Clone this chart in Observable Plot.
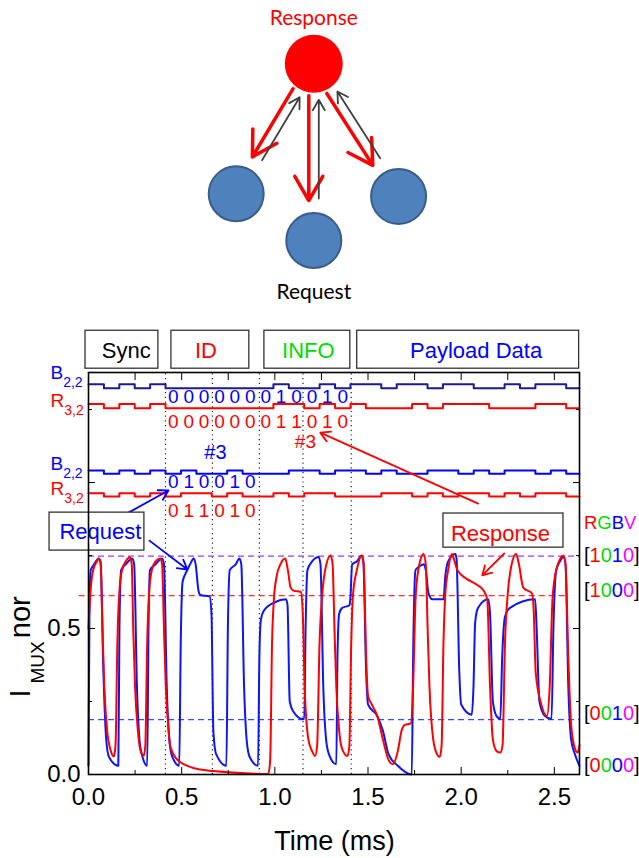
<!DOCTYPE html>
<html>
<head>
<meta charset="utf-8">
<script src="https://cdn.jsdelivr.net/npm/d3@7"></script>
<script src="https://cdn.jsdelivr.net/npm/@observablehq/plot@0.6"></script>
<style>
  html, body { margin: 0; padding: 0; background: #fff; }
  #page { position: relative; width: 639px; height: 858px; overflow: hidden; background:#fff; }
  #diagram { position: absolute; left: 0; top: 0; }
  #chart { position: absolute; left: 0; top: 310px; }
</style>
</head>
<body>
<div id="page"><div id="diagram"></div><div id="chart"></div></div>
<script>
// ================= DATA =================
// network diagram (abstract layout units)
const nodeNames = ["Response", "left", "middle", "right"];
const nodeX = [0, -0.97, 0, 1.06];
const nodeY = [0, 1.0, 1.36, 1.02];
const nodeLabels = ["Response", "", "Request", ""];

// frame sections
const sectionNames = ["Sync", "ID", "INFO", "Payload Data"];
const sectionStart = [-0.016, 0.445, 0.944, 1.442];
const sectionEnd = [0.375, 0.863, 1.405, 2.633];
const sectionTextX = [0.203, 0.63, 1.18, 2.08];
const sectionColors = ["#000000", "#ff0000", "#00dd00", "#0000ff"];

// digital traces: one bit per period (ms)
const bitPeriod = 0.0827;
const traceNames = ["B2,2", "R3,2", "B2,2", "R3,2"];
const traceBits = [
  "10101" + "000000010010" + "110110110010110",
  "10101" + "000000011010" + "100010111000110",
  "10101" + "010010001101" + "101001101011010",
  "10101" + "011010010110" + "001101011010110"
];
const traceColors = ["#1c1c8e", "#ff0000", "#0000ff", "#ff0000"];

// ID bit labels
const idRowBits = ["000000010010", "000000011010", "010010", "011010"];
const idRowColors = ["#0000ff", "#ff0000", "#0000ff", "#ff0000"];

// analog signals: [time ms, normalized I_MUX]
const requestSignal = [
  [0.000,0.03],[0.005,0.55],[0.012,0.70],[0.03,0.72],[0.055,0.74],[0.065,0.73],[0.08,0.35],[0.095,0.12],[0.11,0.06],[0.16,0.03],
  [0.166,0.5],[0.175,0.70],[0.20,0.72],[0.235,0.74],[0.245,0.72],[0.26,0.3],[0.275,0.11],[0.29,0.06],[0.315,0.03],
  [0.322,0.5],[0.33,0.70],[0.36,0.72],[0.395,0.74],[0.405,0.72],[0.42,0.3],[0.435,0.11],[0.45,0.06],[0.487,0.03],
  [0.495,0.45],[0.505,0.66],[0.53,0.70],[0.545,0.72],[0.565,0.74],[0.575,0.72],[0.59,0.63],[0.60,0.615],[0.65,0.61],[0.66,0.55],[0.67,0.15],[0.685,0.07],[0.74,0.03],
  [0.748,0.5],[0.758,0.70],[0.79,0.72],[0.81,0.74],[0.82,0.72],[0.835,0.3],[0.85,0.11],[0.865,0.06],[0.91,0.03],
  [0.917,0.4],[0.925,0.53],[0.94,0.56],[1.0,0.59],[1.06,0.60],[1.068,0.58],[1.08,0.25],[1.10,0.215],[1.15,0.19],[1.158,0.19],
  [1.165,0.5],[1.175,0.70],[1.20,0.73],[1.235,0.745],[1.245,0.72],[1.26,0.3],[1.275,0.12],[1.29,0.07],[1.33,0.035],
  [1.336,0.4],[1.345,0.55],[1.36,0.57],[1.40,0.58],[1.405,0.6],[1.415,0.72],[1.44,0.73],[1.467,0.75],[1.475,0.73],[1.49,0.35],[1.50,0.24],[1.55,0.20],[1.58,0.15],[1.61,0.07],[1.66,0.03],[1.735,0.0],
  [1.742,0.4],[1.755,0.70],[1.77,0.71],[1.80,0.72],[1.81,0.70],[1.825,0.62],[1.845,0.60],[1.905,0.60],[1.915,0.68],[1.93,0.73],[1.968,0.755],[1.975,0.74],[1.99,0.35],[2.0,0.24],[2.057,0.205],
  [2.066,0.3],[2.075,0.52],[2.09,0.57],[2.145,0.60],[2.155,0.55],[2.17,0.25],[2.19,0.2],[2.21,0.19],
  [2.22,0.4],[2.235,0.54],[2.26,0.57],[2.397,0.60],[2.405,0.5],[2.42,0.25],[2.45,0.2],[2.485,0.19],
  [2.495,0.5],[2.51,0.70],[2.53,0.73],[2.549,0.745],[2.56,0.72],[2.575,0.3],[2.59,0.12],[2.61,0.07],[2.635,0.03]
];
const responseSignal = [
  [0.0,0.5],[0.01,0.62],[0.025,0.70],[0.045,0.73],[0.056,0.74],[0.065,0.72],[0.075,0.5],[0.085,0.3],[0.10,0.15],[0.12,0.08],[0.136,0.062],
  [0.145,0.1],[0.155,0.45],[0.165,0.62],[0.18,0.70],[0.20,0.73],[0.222,0.744],[0.232,0.72],[0.24,0.5],[0.25,0.3],[0.265,0.15],[0.28,0.08],[0.297,0.065],
  [0.305,0.1],[0.315,0.45],[0.325,0.62],[0.34,0.70],[0.36,0.73],[0.386,0.74],[0.395,0.72],[0.405,0.5],[0.415,0.3],[0.43,0.15],[0.44,0.093],[0.493,0.042],[0.6,0.017],[0.668,0.012],[0.84,0.004],[0.965,0.002],
  [0.975,0.05],[0.985,0.45],[0.995,0.60],[1.01,0.68],[1.03,0.72],[1.056,0.74],[1.07,0.70],[1.085,0.64],[1.10,0.63],[1.14,0.625],[1.15,0.55],[1.16,0.3],[1.18,0.12],[1.20,0.08],[1.216,0.063],
  [1.227,0.1],[1.24,0.45],[1.255,0.62],[1.27,0.70],[1.30,0.75],[1.31,0.72],[1.32,0.5],[1.33,0.3],[1.345,0.15],[1.36,0.09],[1.39,0.063],
  [1.40,0.1],[1.41,0.45],[1.42,0.62],[1.44,0.70],[1.467,0.75],[1.477,0.72],[1.49,0.4],[1.50,0.27],[1.52,0.24],[1.55,0.20],[1.58,0.12],[1.61,0.05],[1.633,0.035],[1.66,0.08],[1.68,0.15],[1.698,0.17],[1.73,0.175],
  [1.742,0.3],[1.755,0.6],[1.77,0.70],[1.798,0.755],[1.81,0.72],[1.82,0.5],[1.83,0.3],[1.85,0.12],[1.87,0.07],[1.885,0.06],
  [1.895,0.1],[1.905,0.45],[1.915,0.62],[1.93,0.70],[1.95,0.755],[1.96,0.74],[1.98,0.70],[2.03,0.67],[2.084,0.65],[2.12,0.63],[2.14,0.6],[2.155,0.3],[2.17,0.12],[2.19,0.08],[2.21,0.075],
  [2.222,0.1],[2.235,0.45],[2.25,0.62],[2.265,0.70],[2.295,0.755],[2.31,0.72],[2.333,0.64],[2.38,0.62],[2.39,0.55],[2.40,0.35],[2.43,0.24],[2.46,0.20],
  [2.475,0.3],[2.49,0.6],[2.51,0.70],[2.549,0.75],[2.56,0.72],[2.575,0.4],[2.59,0.17],[2.61,0.09],[2.625,0.075],[2.635,0.1]
];

// reference levels (RGBV codes)
const levelValues = [0.748, 0.613, 0.188, 0.031];
const levelCodes = ["[1010]", "[1000]", "[0010]", "[0000]"];
const levelLineColors = ["#9a3cff", "#ff3030", "#3050ff", null];

// section boundaries (dotted)
const boundaryTimes = [0.413, 0.665, 0.917, 1.151, 1.41];

// ================= RENDER =================
const FONT = "'Liberation Sans', Arial, Helvetica, sans-serif";
const tRange = [0, 2.635], vRange = [0, 1.377];

// ---- diagram ----
const nodes = nodeNames.map((n, i) => ({name: n, x: nodeX[i], y: nodeY[i], label: nodeLabels[i]}));
const ux = 80, uy = 130; // px per layout unit
function offsetLink(a, b, s) {
  const dx = (b.x - a.x) * ux, dy = (b.y - a.y) * uy, L = Math.hypot(dx, dy);
  const px = -dy / L * s, py = dx / L * s;
  return {x1: a.x + px / ux, y1: a.y + py / uy, x2: b.x + px / ux, y2: b.y + py / uy};
}
const hub = nodes[0], leaves = nodes.slice(1);
const responseLinks = leaves.map(l => offsetLink(hub, l, 5));
const requestLinks = leaves.map(l => offsetLink(l, hub, 5));

const diagram = Plot.plot({
  width: 639, height: 310, margin: 0,
  x: {domain: [-1, 1], range: [313.3 - ux, 313.3 + ux], axis: null},
  y: {domain: [0, 1], range: [63.3, 63.3 + uy], axis: null},
  style: {fontFamily: "Lato, 'Open Sans', sans-serif", background: "#fff"},
  marks: [
    Plot.dot(leaves, {x: "x", y: "y", r: 27.5, fill: "#4f81bd", stroke: "#385d8a", strokeWidth: 2}),
    Plot.dot([hub], {x: "x", y: "y", r: 29, fill: "#ff0000"}),
    Plot.arrow(responseLinks, {x1: "x1", y1: "y1", x2: "x2", y2: "y2", stroke: "#ff0000", strokeWidth: 3.5, headLength: 12, insetStart: 32, insetEnd: 40}),
    Plot.arrow(requestLinks, {x1: "x1", y1: "y1", x2: "x2", y2: "y2", stroke: "#404040", strokeWidth: 1.8, headLength: 10, insetStart: 42, insetEnd: 36}),
    Plot.text(nodes.filter(d => d.name === "Response"), {x: "x", y: "y", text: "label", dy: -46, fill: "#ff0000", fontSize: 21}),
    Plot.text(nodes.filter(d => d.label === "Request"), {x: "x", y: "y", text: "label", dy: 52, fill: "#000", fontSize: 21})
  ]
});
document.getElementById("diagram").append(diagram);

// ---- chart data tables ----
const traceLevels = [[1.337, 1.323], [1.2695, 1.2545], [1.041, 1.030], [0.963, 0.952]];
const traceRows = [];
traceBits.forEach((bits, k) => {
  const [hi, lo] = traceLevels[k];
  for (let i = 0; i < bits.length; i++) {
    const t = i * bitPeriod;
    if (t >= tRange[1]) break;
    traceRows.push({trace: k, t, v: bits[i] === "1" ? hi : lo});
  }
  const last = traceRows[traceRows.length - 1];
  traceRows.push({trace: k, t: tRange[1], v: last.v});
});
const rowY = [1.2945, 1.2085, 1.001, 0.904];
const digitRows = [];
idRowBits.forEach((bits, k) => {
  for (let i = 0; i < bits.length; i++) digitRows.push({row: k, t: (5 + i + 0.5) * bitPeriod, v: rowY[k], d: bits[i], color: idRowColors[k]});
});
const sections = sectionNames.map((s, i) => ({name: s, x1: sectionStart[i], x2: sectionEnd[i], tx: sectionTextX[i], color: sectionColors[i]}));
const req = requestSignal.map(([t, v]) => ({t, v}));
const resp = responseSignal.map(([t, v]) => ({t, v}));
const sideLabels = [
  {text: "B2,2", v: 1.3545, color: "#0000ff"},
  {text: "R3,2", v: 1.2575, color: "#ff0000"},
  {text: "B2,2", v: 1.0428, color: "#0000ff"},
  {text: "R3,2", v: 0.956, color: "#ff0000"}
];
const rightLabels = [{text: "RGBV", v: 0.86, size: 18.5}].concat(levelCodes.map((c, i) => ({text: c, v: [0.75, 0.63, 0.209, 0.031][i], size: 20})));
const levelLines = [
  {v: levelValues[0], x1: 0, x2: 2.635, color: levelLineColors[0]},
  {v: levelValues[1], x1: -0.05, x2: 2.56, color: levelLineColors[1]},
  {v: levelValues[2], x1: 0, x2: 2.635, color: levelLineColors[2]}
];
const annotationBoxes = [
  {x1: -0.209, x2: 0.300, y1: 0.767, y2: 0.897, text: "Request", tx: 0.064, ty: 0.83, color: "#0000ff"},
  {x1: 1.905, x2: 2.549, y1: 0.777, y2: 0.894, text: "Response", tx: 2.211, ty: 0.825, color: "#ff0000"}
];
const arrows = [
  {x1: 0.2145, y1: 0.897, x2: 0.429, y2: 0.973, color: "#0000ff"},
  {x1: 0.327, y1: 0.801, x2: 0.531, y2: 0.702, color: "#0000ff"},
  {x1: 2.091, y1: 0.928, x2: 1.244, y2: 1.171, color: "#ff0000"},
  {x1: 2.231, y1: 0.757, x2: 2.113, y2: 0.682, color: "#ff0000"}
];

const chart = Plot.plot({
  width: 639, height: 548,
  marginLeft: 88, marginRight: 60, marginTop: 62, marginBottom: 84,
  x: {domain: tRange},
  y: {domain: vRange},
  style: {fontFamily: FONT, background: "#fff", overflow: "visible"},
  marks: [
    Plot.ruleX(boundaryTimes, {y1: 0, y2: vRange[1], stroke: "#222", strokeWidth: 1.2, strokeDasharray: "1.2,3.5"}),
    Plot.ruleY(levelLines, {y: "v", x1: "x1", x2: "x2", stroke: "color", strokeWidth: 1.2, strokeDasharray: "6,4"}),
    Plot.line(traceRows, {x: "t", y: "v", z: "trace", stroke: d => traceColors[d.trace], curve: "step-after", strokeWidth: 2}),
    Plot.line(req, {x: "t", y: "v", stroke: "#0a14ff", strokeWidth: 2, curve: "monotone-x"}),
    Plot.line(resp, {x: "t", y: "v", stroke: "#ff0000", strokeWidth: 2, curve: "monotone-x"}),
    Plot.text(digitRows, {x: "t", y: "v", text: "d", fill: "color", fontSize: 19}),
    Plot.text([{t: 0.681, v: 1.104}], {x: "t", y: "v", text: () => "#3", fill: "#0000ff", fontSize: 20}),
    Plot.text([{t: 1.164, v: 1.138}], {x: "t", y: "v", text: () => "#3", fill: "#ff0000", fontSize: 19}),
    Plot.arrow(arrows, {x1: "x1", y1: "y1", x2: "x2", y2: "y2", stroke: "color", strokeWidth: 1.8, headLength: 9}),
    Plot.rect(annotationBoxes, {x1: "x1", x2: "x2", y1: "y1", y2: "y2", fill: "#fff", stroke: "#333", strokeWidth: 1.3}),
    Plot.text(annotationBoxes, {x: "tx", y: "ty", text: "text", fill: "color", fontSize: 22}),
    Plot.rect(sections, {x1: "x1", x2: "x2", y1: 1.39, y2: 1.52, fill: "#fff", stroke: "#333", strokeWidth: 1.3}),
    Plot.text(sections, {x: "tx", y: 1.452, text: "name", fill: "color", fontSize: 22}),
    Plot.text(sideLabels, {x: -0.204, y: "v", text: "text", fill: "color", fontSize: 19, textAnchor: "start", lineAnchor: "bottom"}),
    Plot.text(rightLabels, {x: 2.659, y: "v", text: "text", fill: "#000", fontSize: d => d.size, textAnchor: "start"}),
    Plot.frame({stroke: "#000", strokeWidth: 1.6}),
    Plot.axisX({anchor: "bottom", ticks: [0, 0.5, 1, 1.5, 2, 2.5], tickFormat: d3.format(".1f"), tickSize: -7, tickPadding: 20, fontSize: 24, label: null, stroke: "#000", color: "#000"}),
    Plot.axisX({anchor: "bottom", ticks: [0.25, 0.75, 1.25, 1.75, 2.25], tickFormat: () => "", tickSize: -4, label: null}),
    Plot.axisX({anchor: "top", ticks: d3.range(0.25, 2.6, 0.25), tickFormat: () => "", tickSize: -7, label: null}),
    Plot.axisY({anchor: "left", ticks: [0, 0.5], tickFormat: d3.format(".1f"), tickSize: -7, tickPadding: 15, fontSize: 24, label: null}),
    Plot.axisY({anchor: "left", ticks: [1.0], tickFormat: () => "", tickSize: -7, label: null}),
    Plot.axisY({anchor: "left", ticks: [0.25, 0.75, 1.25], tickFormat: () => "", tickSize: -4, label: null}),
    Plot.axisY({anchor: "right", ticks: [0.5, 1.0], tickFormat: () => "", tickSize: -7, label: null}),
    Plot.axisY({anchor: "right", ticks: [0.25, 0.75, 1.25], tickFormat: () => "", tickSize: -4, label: null}),
    Plot.text([{t: 1.32, v: -0.257}], {x: "t", y: "v", text: () => "Time (ms)", fontSize: 27, lineAnchor: "bottom", fill: "#000"}),
    Plot.text([{t: -0.3166, v: 0.2637}], {x: "t", y: "v", text: () => "I_MUX nor", fontSize: 29, rotate: -90, textAnchor: "start", lineAnchor: "bottom", fill: "#000"})
  ]
});
document.getElementById("chart").append(chart);

// ---- rich text (subscripts, multicolour codes) ----
const codeColors = ["#ff0000", "#00dd00", "#0000ff", "#ff00ff"];
const rich = {
  "B2,2": [{t: "B"}, {t: "2,2", sub: 8, size: 14}],
  "R3,2": [{t: "R"}, {t: "3,2", sub: 8, size: 14}],
  "I_MUX nor": [{t: "I"}, {t: "MUX", sub: 14, size: 19, dx: 6}, {t: "nor", dx: 3}],
  "RGBV": "RGBV".split("").map((c, i) => ({t: c, fill: codeColors[i]}))
};
levelCodes.forEach(code => {
  rich[code] = [{t: "[", fill: "#000"}].concat(code.slice(1, 5).split("").map((c, i) => ({t: c, fill: codeColors[i]})), [{t: "]", fill: "#000"}]);
});
d3.select(chart).selectAll("text").each(function () {
  const spec = rich[this.textContent];
  if (!spec) return;
  const sel = d3.select(this);
  sel.text(null);
  let shift = 0;
  for (const p of spec) {
    const ts = sel.append("tspan").text(p.t);
    if (p.fill) ts.attr("fill", p.fill);
    if (p.size) ts.attr("font-size", p.size);
    const want = p.sub || 0;
    if (want !== shift) { ts.attr("dy", want - shift); shift = want; }
    if (p.dx) ts.attr("dx", p.dx);
  }
});
</script>
</body>
</html>
